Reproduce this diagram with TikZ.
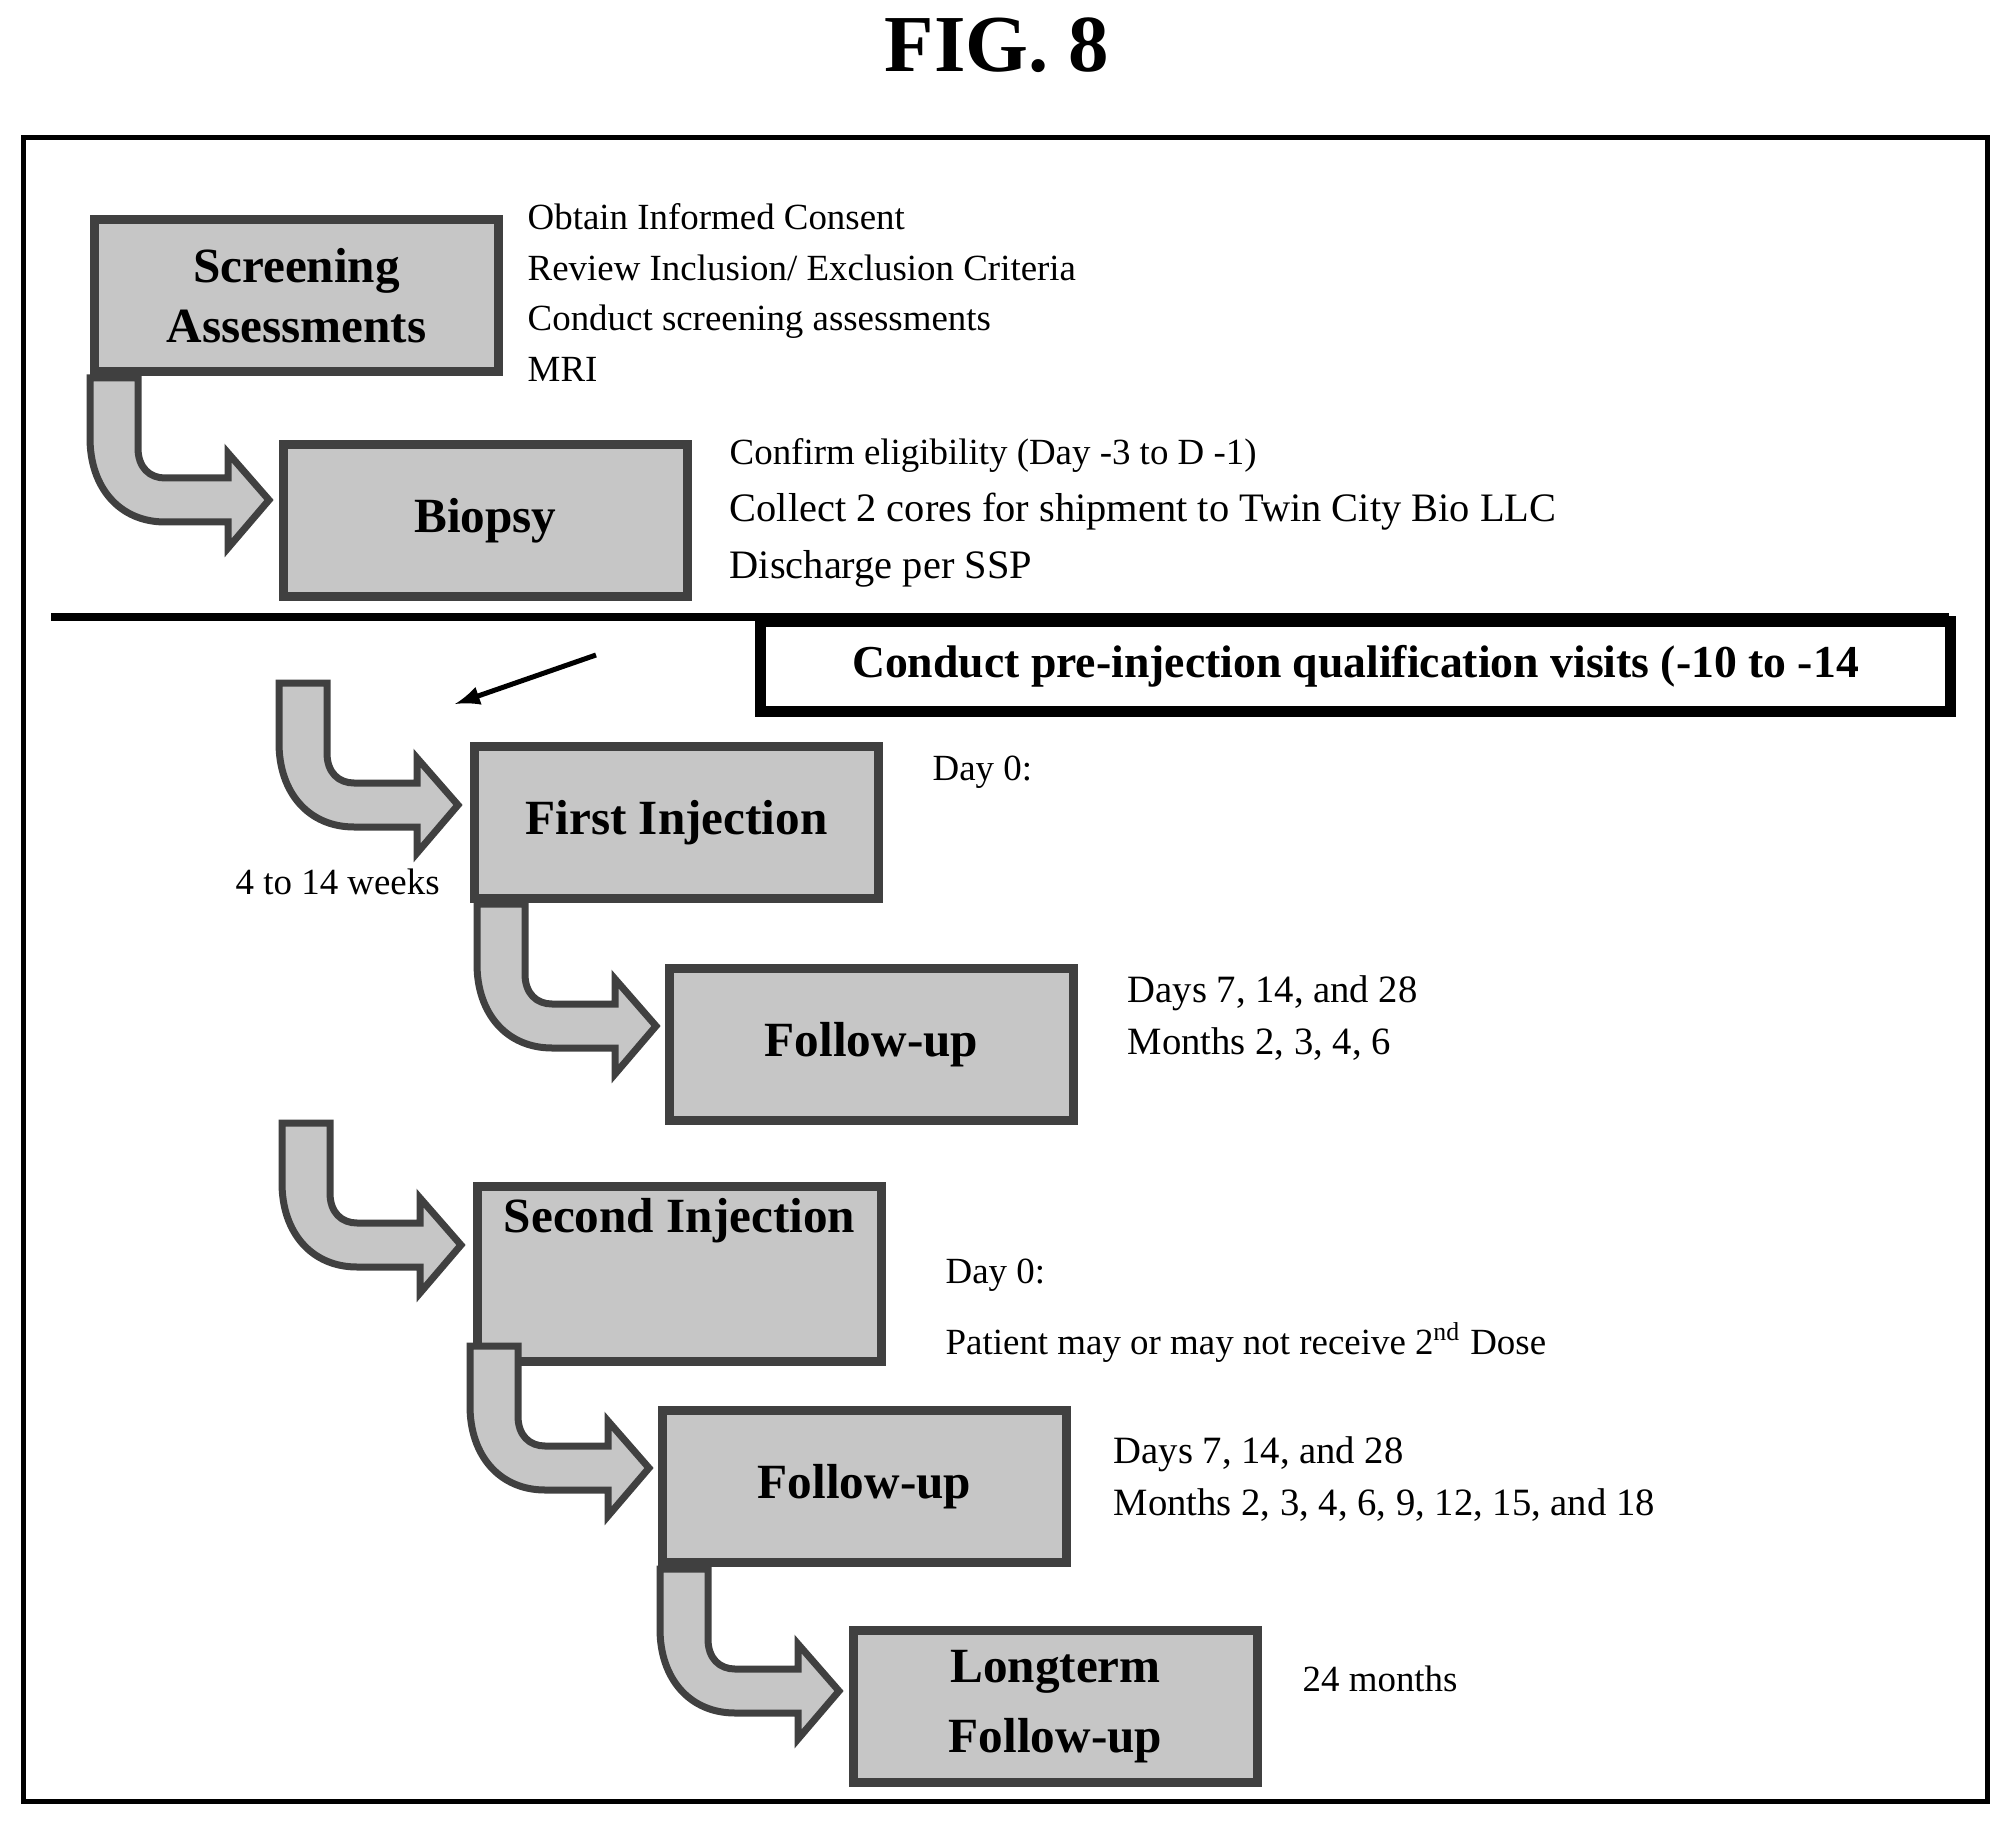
\documentclass[tikz,border=0pt]{standalone}
\usepackage{fontspec}
\setmainfont{Liberation Serif}
\begin{document}
\begin{tikzpicture}[x=0.1mm,y=-0.1mm,
  box/.style={draw=black!75,line width=0.9mm,fill=gray!45,minimum width=40.4mm,minimum height=15.2mm,anchor=north west,font=\fontsize{14}{17}\selectfont\bfseries,align=center},
  txt/.style={anchor=north west,align=left,inner sep=0pt,font=\fontsize{10.5}{12.6}\selectfont},
  bent/.pic={\filldraw[draw=black!75,line width=0.7mm,fill=gray!45,x=0.1mm,y=-0.1mm]
    (0,0) -- (0,60) .. controls (0,110) and (30,144) .. (75,144) -- (138,144) -- (138,170) -- (179,122) -- (138,75) -- (138,100) -- (75,100) .. controls (60,100) and (48,90) .. (48,70) -- (48,0) -- cycle;}]
\useasboundingbox (0,0) rectangle (2010,1823);
\node[font=\fontsize{23}{26}\selectfont\bfseries] (title) at (997,45) {FIG. 8};
\draw[line width=0.5mm] (23,138) rectangle (1987,1801);
\node[box] (scr) at (90,215) {Screening\\Assessments};
\node[box] (bio) at (279,440) {Biopsy};
\node[txt,font=\fontsize{10.5}{14.4}\selectfont] (t1) at (527,203) {Obtain Informed Consent\\Review Inclusion/ Exclusion Criteria\\Conduct screening assessments\\MRI};
\node[txt,font=\fontsize{11.5}{16.2}\selectfont] (t2) at (729,438) {{\fontsize{10.5}{12}\selectfont Confirm eligibility (Day -3 to D -1)}\\Collect 2 cores for shipment to Twin City Bio LLC\\Discharge per SSP};
\draw[line width=0.8mm] (51,617) -- (1949,617);
\node[draw,line width=1.1mm,minimum width=119mm,minimum height=9mm,anchor=north west,font=\fontsize{13}{15}\selectfont\bfseries] (pre) at (755,616) {Conduct pre-injection qualification visits (-10 to -14};
\coordinate (ps) at (596,655);
\coordinate (pe) at (455,704);
\draw[line width=0.5mm,-latex] (ps) -- (pe);
\node[box] (fi) at (470,742) {First Injection};
\node[txt] (d0a) at (932,755) {Day 0:};
\node[txt] (wk) at (235,868) {4 to 14 weeks};
\node[box] (fu1) at (665,964) {Follow-up};
\node[txt,font=\fontsize{11}{14.8}\selectfont] (t3) at (1127,975) {Days 7, 14, and 28\\Months 2, 3, 4, 6};
\node[box,align=center] (si) at (473,1182) {Second Injection\\[4mm]\strut};
\node[txt] (d0b) at (945,1258) {Day 0:};
\node[txt] (pat) at (945,1322) {Patient may or may not receive 2\textsuperscript{nd} Dose};
\node[box] (fu2) at (658,1406) {Follow-up};
\node[txt,font=\fontsize{11}{14.8}\selectfont] (t4) at (1113,1436) {Days 7, 14, and 28\\Months 2, 3, 4, 6, 9, 12, 15, and 18};
\node[box,font=\fontsize{14}{20}\selectfont\bfseries] (lt) at (849,1626) {Longterm\\Follow-up};
\node[txt] (t5) at (1302,1665) {24 months};
\pic at (90,378) {bent};
\pic at (279,683) {bent};
\pic at (477,904) {bent};
\pic at (282,1123) {bent};
\pic at (470,1346) {bent};
\pic at (660,1569) {bent};
\end{tikzpicture}
\end{document}
